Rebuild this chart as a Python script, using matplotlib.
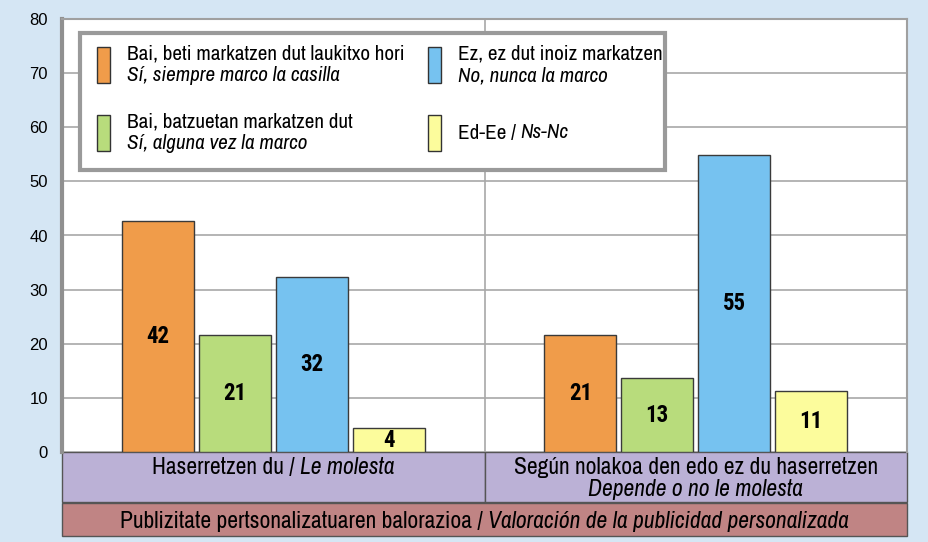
import numpy as np
import matplotlib.pyplot as plt
from matplotlib.patches import Rectangle
from matplotlib.transforms import offset_copy

NARROW = ['Archivo Narrow', 'Liberation Sans', 'DejaVu Sans']
plt.rcParams['font.family'] = NARROW

# Data
groups = [[('Haserretzen du /', 'normal'), ('Le molesta', 'italic')],
          [('Según nolakoa den edo ez du haserretzen', 'normal')]]
group_line2 = 'Depende o no le molesta'
series_eu = ['Bai, beti markatzen dut laukitxo hori', 'Bai, batzuetan markatzen dut',
             'Ez, ez dut inoiz markatzen', 'Ed-Ee /']
series_es = ['Sí, siempre marco la casilla', 'Sí, alguna vez la marco',
             'No, nunca la marco', 'Ns-Nc']
heights = np.array([[42.6, 21.6, 32.4, 4.4],
                    [21.6, 13.6, 54.9, 11.3]])
labels = [[42, 21, 32, 4],
          [21, 13, 55, 11]]
colors = ['#F09C4A', '#B8DC7C', '#76C2F0', '#FCFC9C']
footer = [('Publizitate pertsonalizatuaren balorazioa /', 'normal'),
          ('Valoración de la publicidad personalizada', 'italic')]

bg = '#D5E6F4'
fig = plt.figure(figsize=(9.29, 5.42), dpi=100, facecolor=bg)
ax = fig.add_axes([62 / 929, 90 / 542, 845 / 929, 433 / 542])
ax.set_facecolor('white')
tr = ax.transAxes
renderer = fig.canvas.get_renderer()


def mixed(x, y, parts, size, ha='center', zorder=7):
    # lay out runs of normal / italic text side by side
    t = ax.text(0, 0, 'x x', fontsize=size)
    t2 = ax.text(0, 0, 'xx', fontsize=size)
    gap = t.get_window_extent(renderer).width - t2.get_window_extent(renderer).width
    t.remove()
    t2.remove()
    widths = []
    for s, st in parts:
        tt = ax.text(0, 0, s, fontsize=size, style=st)
        widths.append(tt.get_window_extent(renderer).width)
        tt.remove()
    total = sum(widths) + gap * (len(parts) - 1)
    start = -total / 2 if ha == 'center' else 0
    for (s, st), w in zip(parts, widths):
        ax.text(x, y, s, fontsize=size, style=st, ha='left', va='center', zorder=zorder,
                transform=offset_copy(tr, fig=fig, x=start, y=0, units='dots'))
        start += w + gap


centers = np.array([0.5, 1.5])
step = 0.182
width = 0.170
for i in range(4):
    xs = centers + (i - 1.5) * step
    bars = ax.bar(xs, heights[:, i], width=width, color=colors[i],
                  edgecolor='#3a3a3a', linewidth=1, zorder=3)
    for b, lab in zip(bars, labels):
        ax.text(b.get_x() + b.get_width() / 2, b.get_height() / 2, str(lab[i]),
                ha='center', va='center', fontsize=16.5, fontweight='bold',
                family=['Roboto Condensed', 'Liberation Sans'], zorder=4)

ax.set_xlim(0, 2)
ax.set_ylim(0, 80)
ax.set_yticks(np.arange(0, 81, 10))
ax.set_xticks([])
ax.tick_params(axis='y', length=0, labelsize=12, pad=10)
for lab in ax.get_yticklabels():
    lab.set_family(['Liberation Sans', 'DejaVu Sans'])
ax.yaxis.grid(True, color='#a8a8a8', linewidth=1.2, zorder=0)
ax.axvline(1, color='#a8a8a8', linewidth=1.2, zorder=1)
for side in ['top', 'right']:
    ax.spines[side].set_color('#a0a0a0')
    ax.spines[side].set_linewidth(1.5)
ax.spines['left'].set_color('#909090')
ax.spines['left'].set_linewidth(3)
ax.spines['bottom'].set_visible(False)

# category bands below the plot
band_h = 50 / 433
for x0 in (0, 0.5):
    ax.add_patch(Rectangle((x0, -band_h), 0.5, band_h, transform=tr, clip_on=False,
                           facecolor='#BBB1D6', edgecolor='#555555', linewidth=1))
ax.add_patch(Rectangle((0, -84 / 433), 1, 33 / 433, transform=tr, clip_on=False,
                       facecolor='#C08484', edgecolor='#555555', linewidth=1))
mixed(0.25, -16 / 433, groups[0], 17)
mixed(0.75, -16 / 433, groups[1], 17)
ax.text(0.75, -37 / 433, group_line2, transform=tr, ha='center', va='center',
        fontsize=17, style='italic')
mixed(0.5, -69 / 433, footer, 17)

# legend drawn by hand
lx0, lx1 = 18 / 845, 603 / 845
ly0, ly1 = (452 - 170) / 433, (452 - 33) / 433
ax.add_patch(Rectangle((lx0, ly0), lx1 - lx0, ly1 - ly0, transform=tr,
                       facecolor='white', edgecolor='#9a9a9a', linewidth=3, zorder=5))
col_x = [35 / 845, 366 / 845]
row_y = [(452 - 65) / 433, (452 - 133) / 433]
pw, ph = 13 / 845, 36 / 433
for i in range(4):
    px = col_x[i // 2]
    py = row_y[i % 2]
    ax.add_patch(Rectangle((px, py - ph / 2), pw, ph, transform=tr,
                           facecolor=colors[i], edgecolor='#333333', linewidth=1, zorder=6))
    tx = px + 30 / 845
    if i == 3:
        mixed(tx, py, [(series_eu[i], 'normal'), (series_es[i], 'italic')], 15.2, ha='left')
    else:
        ax.text(tx, py + 11 / 433, series_eu[i], transform=tr, ha='left',
                va='center', fontsize=15.2, zorder=7)
        ax.text(tx, py - 11 / 433, series_es[i], transform=tr, ha='left',
                va='center', fontsize=15.2, style='italic', zorder=7)

fig.savefig('out.png', dpi=100, facecolor=bg)
